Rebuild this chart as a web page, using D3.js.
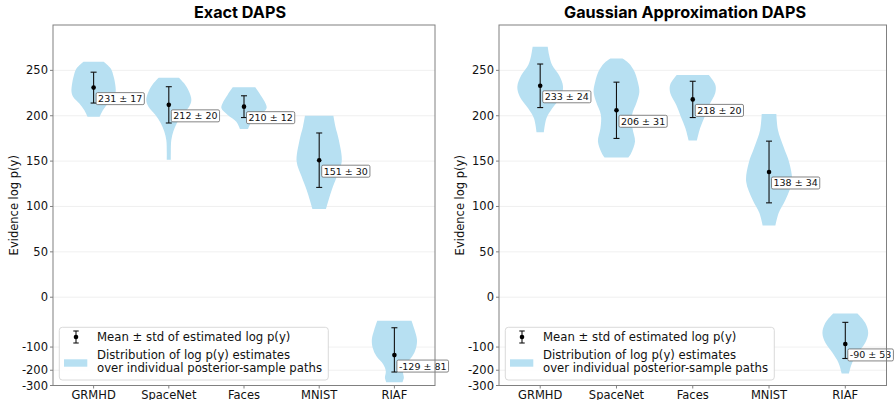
<!DOCTYPE html>
<html>
<head>
<meta charset="utf-8">
<script src="https://cdn.jsdelivr.net/npm/d3@7/dist/d3.min.js"></script>
<style>
  html, body { margin: 0; padding: 0; background: #fff; }
  svg { display: block; }
</style>
</head>
<body>
<svg id="chart" width="894" height="400"></svg>
<script>
// ---------- data ----------
const categories = ["GRMHD", "SpaceNet", "Faces", "MNIST", "RIAF"];
const yTicks = [-300, -200, -100, 0, 50, 100, 150, 200, 250];

const exactMeans = [231, 212, 210, 151, -129];
const exactStds  = [17, 20, 12, 30, 81];
const gaussMeans = [233, 206, 218, 138, -90];
const gaussStds  = [24, 31, 20, 34, 53];

// violin density profiles: [log p(y) value, relative density]
const exactGRMHD    = [[199,0.27],[206,0.41],[213.7,0.64],[221,0.91],[226.5,0.98],[235.7,0.95],[243,0.89],[252,0.76],[259.6,0.45]];
const exactSpaceNet = [[151.4,0.09],[160,0.09],[173,0.11],[182.5,0.2],[192,0.36],[201,0.6],[210,0.9],[217.4,1.0],[226.5,0.9],[235.7,0.68],[242,0.45]];
const exactFaces    = [[185.5,0.18],[193.5,0.34],[200.9,0.72],[208.2,1.0],[213.7,0.95],[222.9,0.73],[231.3,0.5]];
const exactMNIST    = [[97.1,0.3],[107.4,0.42],[118.4,0.56],[133,0.78],[149.5,1.0],[173.4,0.87],[188,0.72],[200,0.63]];
const exactRIAF     = [[-275,0.36],[-245,0.42],[-205,0.38],[-170,0.49],[-133,0.8],[-103,0.96],[-77,1.0],[-52,0.89],[-34,0.76]];

const gaussGRMHD    = [[181.8,0.16],[197,0.27],[208,0.52],[221,0.89],[232,1.0],[245,0.82],[256,0.52],[267,0.39],[276,0.33]];
const gaussSpaceNet = [[154,0.52],[158.7,0.64],[171.5,0.81],[186.2,0.7],[200.9,0.68],[215.5,0.89],[226.5,1.0],[237.5,0.93],[248.5,0.79],[257.7,0.55],[263.2,0.27]];
const gaussFaces    = [[172.6,0.18],[186.2,0.32],[199,0.52],[211.9,0.72],[224.8,0.98],[233.9,0.99],[244.9,0.7]];
const gaussMNIST    = [[79.1,0.28],[92.7,0.42],[107.4,0.72],[127.5,1.0],[147.7,0.89],[166,0.63],[184.4,0.39],[202,0.32]];
const gaussRIAF     = [[-218,0.16],[-162,0.3],[-120.4,0.56],[-86.7,0.87],[-60,1.0],[-38,0.87],[-21.7,0.53]];

const exactViolins = [exactGRMHD, exactSpaceNet, exactFaces, exactMNIST, exactRIAF];
const gaussViolins = [gaussGRMHD, gaussSpaceNet, gaussFaces, gaussMNIST, gaussRIAF];

const titles = ["Exact DAPS", "Gaussian Approximation DAPS"];
const yLabel = "Evidence log p(y)";
const legendLabels = ["Mean \u00b1 std of estimated log p(y)", "Distribution of log p(y) estimates", "over individual posterior-sample paths"];

// ---------- drawing ----------
const svg = d3.select("#chart");
const FONT = "'DejaVu Sans', sans-serif";
const violinFill = "rgb(183,224,242)";
const spineColor = "#808080";

// linear above zero, logarithmic-like compression below zero
const T = v => v >= 0 ? v : -50 * Math.log(1 - v / 50);

function panel(opts) {
  const { left, right, top, bottom, title, titleX, means, stds, violins } = opts;
  const g = svg.append("g");
  const yLin = d3.scaleLinear().domain([T(-300), 300]).range([bottom, top]);
  const y = v => yLin(T(v));
  const x = d3.scalePoint().domain(categories).range([left, right]).padding(0.54);
  const w = d3.scaleLinear().domain([0, 1]).range([0, x.step() * 0.3]);

  // grid
  g.selectAll("line.grid").data(yTicks.filter(t => t > -300)).enter().append("line")
    .attr("x1", left).attr("x2", right)
    .attr("y1", d => y(d)).attr("y2", d => y(d))
    .attr("stroke", "#ececec").attr("stroke-width", 0.8);

  // violins
  const area = d3.area()
    .curve(d3.curveCatmullRom.alpha(0.5))
    .y(d => y(d[0]));
  violins.forEach((prof, i) => {
    const cx = x(categories[i]);
    g.append("path")
      .datum(prof)
      .attr("d", area.x0(d => cx - w(d[1])).x1(d => cx + w(d[1])))
      .attr("fill", violinFill);
  });

  // error bars
  means.forEach((m, i) => {
    const cx = x(categories[i]);
    const s = stds[i];
    const eg = g.append("g").attr("stroke", "#111").attr("stroke-width", 1.1);
    eg.append("line").attr("x1", cx).attr("x2", cx).attr("y1", y(m + s)).attr("y2", y(m - s));
    [m + s, m - s].forEach(v => eg.append("line").attr("x1", cx - 3).attr("x2", cx + 3).attr("y1", y(v)).attr("y2", y(v)));
    g.append("circle").attr("cx", cx).attr("cy", y(m)).attr("r", 2.3).attr("fill", "#000");
  });

  // annotations
  means.forEach((m, i) => {
    const cx = x(categories[i]);
    const ag = g.append("g");
    const t = ag.append("text")
      .attr("x", cx + 4.5).attr("y", y(m) + 11)
      .attr("dominant-baseline", "central")
      .attr("font-family", FONT).attr("font-size", 9.5).attr("fill", "#111")
      .text(`${m} \u00b1 ${stds[i]}`);
    const bb = t.node().getBBox();
    ag.insert("rect", "text")
      .attr("x", bb.x - 2).attr("y", bb.y - 0.5)
      .attr("width", bb.width + 4).attr("height", bb.height + 1)
      .attr("rx", 1.5)
      .attr("fill", "#fff").attr("stroke", "#666").attr("stroke-width", 0.8);
  });

  // frame
  g.append("rect").attr("x", left).attr("y", top).attr("width", right - left).attr("height", bottom - top)
    .attr("fill", "none").attr("stroke", spineColor).attr("stroke-width", 1);

  // y axis
  const yAxis = g.append("g");
  yTicks.forEach(t => {
    yAxis.append("line").attr("x1", left - 3).attr("x2", left).attr("y1", y(t)).attr("y2", y(t)).attr("stroke", spineColor);
    yAxis.append("text").attr("x", left - 5).attr("y", y(t)).attr("dominant-baseline", "central")
      .attr("text-anchor", "end").attr("font-family", FONT).attr("font-size", 11.5).attr("fill", "#111")
      .text(t);
  });
  // x axis
  categories.forEach(c => {
    g.append("line").attr("x1", x(c)).attr("x2", x(c)).attr("y1", bottom).attr("y2", bottom + 3).attr("stroke", spineColor);
    g.append("text").attr("x", x(c)).attr("y", bottom + 13).attr("text-anchor", "middle")
      .attr("font-family", FONT).attr("font-size", 11.5).attr("fill", "#111").text(c);
  });

  // y label
  g.append("text")
    .attr("transform", `translate(${left - 35},${(top + bottom) / 2}) rotate(-90)`)
    .attr("text-anchor", "middle").attr("font-family", FONT).attr("font-size", 11.5).attr("fill", "#111")
    .text(yLabel);

  // title
  g.append("text").attr("x", titleX).attr("y", 17.5).attr("text-anchor", "middle")
    .attr("font-family", "Inter, 'Liberation Sans', sans-serif").attr("font-weight", 700).attr("font-size", 16.2)
    .attr("fill", "#000").text(title);

  // legend
  const lx = left + 6.3, ly = bottom - 58.2;
  const lg = g.append("g");
  lg.append("rect").attr("x", lx).attr("y", ly).attr("width", 269).attr("height", 52.7).attr("rx", 3)
    .attr("fill", "#fff").attr("fill-opacity", 0.9).attr("stroke", "#d0d0d0").attr("stroke-width", 0.8);
  const ix = lx + 16.7, iy = ly + 9.7;
  const ig = lg.append("g").attr("stroke", "#111").attr("stroke-width", 1.1);
  ig.append("line").attr("x1", ix).attr("x2", ix).attr("y1", iy - 6).attr("y2", iy + 6);
  ig.append("line").attr("x1", ix - 2.7).attr("x2", ix + 2.7).attr("y1", iy - 6).attr("y2", iy - 6);
  ig.append("line").attr("x1", ix - 2.7).attr("x2", ix + 2.7).attr("y1", iy + 6).attr("y2", iy + 6);
  lg.append("circle").attr("cx", ix).attr("cy", iy).attr("r", 2.3).attr("fill", "#000");
  lg.append("rect").attr("x", lx + 4.7).attr("y", ly + 32).attr("width", 23.3).attr("height", 7.4).attr("fill", violinFill);
  const tx = lx + 37.7;
  [[legendLabels[0], iy], [legendLabels[1], ly + 27.7], [legendLabels[2], ly + 40.4]].forEach(([s, yy]) => {
    lg.append("text").attr("x", tx).attr("y", yy).attr("dominant-baseline", "central")
      .attr("font-family", FONT).attr("font-size", 11.7).attr("fill", "#111").text(s);
  });
}

panel({ left: 53, right: 435, top: 25, bottom: 385.5, title: titles[0], titleX: 240, means: exactMeans, stds: exactStds, violins: exactViolins });
panel({ left: 499, right: 886.5, top: 25, bottom: 385.5, title: titles[1], titleX: 685, means: gaussMeans, stds: gaussStds, violins: gaussViolins });
</script>
</body>
</html>
